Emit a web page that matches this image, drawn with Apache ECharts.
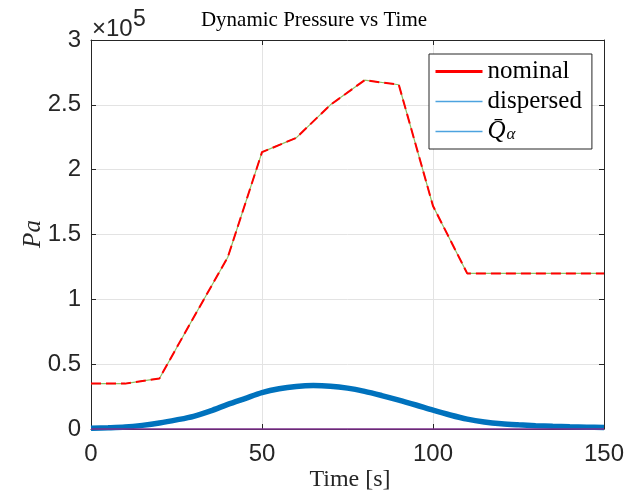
<!DOCTYPE html>
<html><head><meta charset="utf-8">
<script src="https://cdn.jsdelivr.net/npm/echarts@6/dist/echarts.min.js"></script>
<style>html,body{margin:0;padding:0;background:#fff}#c{width:627px;height:497px}</style>
</head><body><div id="c"></div>
<script>
// Dynamic pressure limit (red dashed over green)
const limitTime = [0, 10, 20, 30, 40, 50, 60, 70, 80, 90, 100, 110, 120, 130, 140, 150];
const limitValues = [35000, 35000, 39000, 86000, 132500, 213500, 224500, 250000, 269000, 265500, 172000, 120000, 120000, 120000, 120000, 120000];
// Dynamic pressure curves
const qTime = [0, 5, 10, 15, 20, 25, 30, 35, 40, 45, 50, 55, 60, 65, 70, 75, 80, 85, 90, 95, 100, 105, 110, 115, 120, 125, 130, 135, 140, 145, 150];
const nominalQ = [500, 900, 1500, 2800, 4600, 7000, 9800, 14000, 19000, 23500, 28000, 31000, 32800, 33500, 33000, 31500, 29000, 25800, 22300, 18500, 14500, 10800, 7600, 5400, 4000, 3200, 2600, 2100, 1700, 1300, 1000];
const dispersedQ = [500, 900, 1500, 2800, 4600, 7000, 9800, 14000, 19000, 23500, 28000, 31000, 32800, 33500, 33000, 31500, 29000, 25800, 22300, 18500, 14500, 10800, 7600, 5400, 4000, 3200, 2600, 2100, 1700, 1400, 1200];
const qAlphaTime = [0, 150];
const qAlphaValues = [0, 0];
// Axis ticks
const xTicks = [0, 50, 100, 150];
const yTicks = [0, 0.5, 1, 1.5, 2, 2.5, 3];
const yScale = 1e5;

const pair = (xs, ys) => xs.map((x, i) => [x, ys[i]]);
const AX = '#262626';
const serif = 'Liberation Serif';
const sans = 'Liberation Sans';

const chart = echarts.init(document.getElementById('c'), null, {renderer: 'canvas'});
const baseX = {
  type: 'value', min: xTicks[0], max: xTicks[xTicks.length - 1], interval: xTicks[1] - xTicks[0]
};
const baseY = {
  type: 'value', min: yTicks[0] * yScale, max: yTicks[yTicks.length - 1] * yScale, interval: (yTicks[1] - yTicks[0]) * yScale
};
const hideSym = {opacity: 0, borderWidth: 0};
chart.setOption({
  animation: false,
  backgroundColor: '#fff',
  grid: {left: 91, right: 23, top: 40, bottom: 68, containLabel: false, outerBoundsMode: 'none'},
  xAxis: [
    Object.assign({}, baseX, {
      position: 'bottom',
      axisLine: {show: true, lineStyle: {color: AX, width: 1}},
      axisTick: {show: true, inside: true, length: 5, lineStyle: {color: AX}},
      axisLabel: {color: AX, fontFamily: sans, fontSize: 24, margin: 13},
      splitLine: {show: true, lineStyle: {color: '#e3e3e3', width: 1}}
    }),
    Object.assign({}, baseX, {
      position: 'top',
      axisLine: {show: true, onZero: false, lineStyle: {color: AX, width: 1}},
      axisTick: {show: true, inside: true, length: 5, lineStyle: {color: AX}},
      axisLabel: {show: false},
      splitLine: {show: false}
    })
  ],
  yAxis: [
    Object.assign({}, baseY, {
      position: 'left',
      axisLine: {show: true, onZero: false, lineStyle: {color: AX, width: 1}},
      axisTick: {show: true, inside: true, length: 5, lineStyle: {color: AX}},
      axisLabel: {color: AX, fontFamily: sans, fontSize: 24, margin: 10,
        formatter: v => String(Math.round(v / yScale * 10) / 10)},
      splitLine: {show: true, lineStyle: {color: '#e3e3e3', width: 1}}
    }),
    Object.assign({}, baseY, {
      position: 'right',
      axisLine: {show: true, onZero: false, lineStyle: {color: AX, width: 1}},
      axisTick: {show: true, inside: true, length: 5, lineStyle: {color: AX}},
      axisLabel: {show: false},
      splitLine: {show: false}
    })
  ],
  legend: {
    orient: 'vertical', left: 429, top: 54,
    backgroundColor: '#fff', borderColor: AX, borderWidth: 1, borderRadius: 0,
    padding: [5, 10, 5, 5], itemWidth: 47, itemHeight: 14, itemGap: 5,
    itemStyle: hideSym,
    data: [
      {name: 'nominal', lineStyle: {color: '#ff0000', width: 3}, itemStyle: hideSym},
      {name: 'dispersed', lineStyle: {color: '#4da3df', width: 1.5}, itemStyle: hideSym},
      {name: 'Q̄α', lineStyle: {color: '#4da3df', width: 1.5}, itemStyle: hideSym}
    ],
    formatter: n => n === 'Q̄α' ? '{q|Q̄}{s|α}' : n,
    textStyle: {
      fontFamily: serif, fontSize: 25, color: '#000', lineHeight: 24, padding: [0, 0, 0, 0],
      rich: {
        q: {fontFamily: serif, fontStyle: 'italic', fontSize: 25, lineHeight: 24, color: '#000'},
        s: {fontFamily: serif, fontStyle: 'italic', fontSize: 17, lineHeight: 18, color: '#000', verticalAlign: 'bottom', padding: [6, 0, 0, 1]}
      }
    }
  },
  series: [
    {type: 'line', name: 'limitBase', data: pair(limitTime, limitValues), symbol: 'none', silent: true,
      lineStyle: {color: '#8cc063', width: 1.2}, z: 2},
    {type: 'line', name: 'limitDash', data: pair(limitTime, limitValues), symbol: 'none', silent: true,
      lineStyle: {color: '#ff0000', width: 2, type: [10, 5]}, z: 3},
    {type: 'line', name: 'nominal', data: pair(qTime, nominalQ), symbol: 'none',
      itemStyle: {color: '#ff0000'}, lineStyle: {color: '#ff0000', width: 2}, z: 3},
    {type: 'line', name: 'dispersed', data: pair(qTime, dispersedQ), symbol: 'none', smooth: 0.3,
      itemStyle: {color: '#0072bd'}, lineStyle: {color: '#0072bd', width: 5.5}, z: 4},
    {type: 'line', name: 'Q̄α', data: pair(qAlphaTime, qAlphaValues), symbol: 'none', clip: false,
      itemStyle: {color: '#7e2f8e'}, lineStyle: {color: '#7e2f8e', width: 1.5}, z: 5}
  ],
  graphic: [
    {type: 'text', x: 314, y: 20, style: {text: 'Dynamic Pressure vs Time', font: '21px "Liberation Serif"', fill: '#000', textAlign: 'center', textVerticalAlign: 'middle'}},
    {type: 'text', x: 92, y: 29, style: {text: '×10', font: '24px "Liberation Sans"', fill: AX, textAlign: 'left', textVerticalAlign: 'middle'}},
    {type: 'text', x: 133, y: 20, style: {text: '5', font: '23px "Liberation Sans"', fill: AX, textAlign: 'left', textVerticalAlign: 'middle'}},
    {type: 'text', x: 350, y: 480, style: {text: 'Time [s]', font: '24px "Liberation Serif"', fill: AX, textAlign: 'center', textVerticalAlign: 'middle'}},
    {type: 'text', x: 33, y: 234, rotation: Math.PI / 2, style: {text: 'Pa', font: 'italic 25px "Liberation Serif"', fill: AX, textAlign: 'center', textVerticalAlign: 'middle'}}
  ]
});
</script>
</body></html>
